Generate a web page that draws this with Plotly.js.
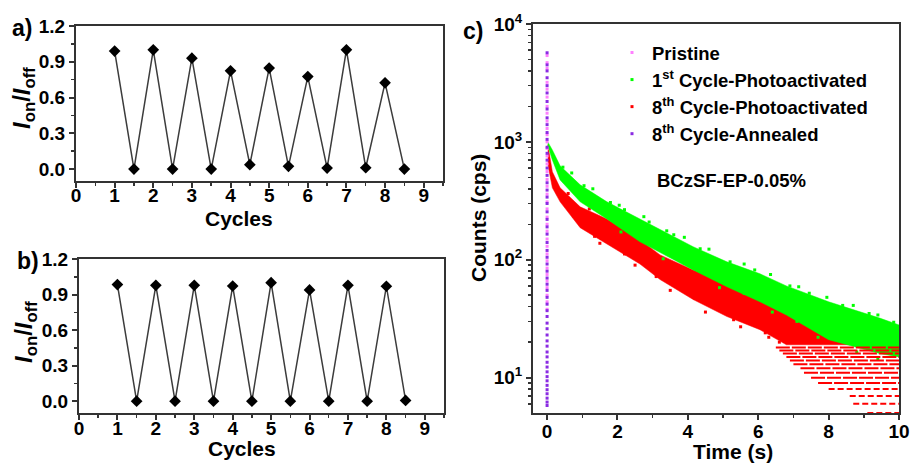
<!DOCTYPE html>
<html><head><meta charset="utf-8">
<script src="https://cdn.plot.ly/plotly-3.0.1.min.js"></script>
<style>html,body{margin:0;padding:0;background:#fff}#chart{width:911px;height:464px}</style>
</head><body><div id="chart"></div>
<script>
// ---- panels a / b : on/off ratio vs cycles ----
const cyclesX = [1,1.5,2,2.5,3,3.5,4,4.5,5,5.5,6,6.5,7,7.5,8,8.5];
const ratioA  = [0.99,0.0,1.0,0.0,0.93,0.0,0.824,0.037,0.847,0.023,0.776,0.008,1.0,0.011,0.723,0.0];
const ratioB  = [0.984,0.0,0.978,0.0,0.978,0.0,0.972,0.0,1.0,0.0,0.939,0.0,0.978,0.0,0.97,0.006];
const cycleTicks = [0,1,2,3,4,5,6,7,8,9];
const ratioTicks = [0.0,0.3,0.6,0.9,1.2];

// ---- panel c : decay curves (counts in cps, time in s) ----
const greenT  = [0.02,0.15,0.37,0.94,1.7,2.64,3.21,4.15,5.11,6.05,6.8,8.0,9.45,10];
const greenHi = [1000,855,626,432,310,222,180,129,96,76,60,44,32,28];
const greenLo = [925,703,476,310,222,142,115,82,59,44,34,21,16,15];
const greenOutT = [0.45,0.7,1.05,1.3,1.8,2.05,2.2,2.75,2.9,3.4,3.6,3.9,4.35,4.6,5.2,5.6,5.9,6.35,6.9,7.15,7.45,7.95,8.4,8.7,9.15,9.4,9.85,2.1,3.3,4.9,5.6,6.4,7.1,7.7,8.8,9.4];
const greenOutV = [610,545,425,400,306,290,266,232,209,176,163,155,124,123,96,92,82,75,60,59,52,48,41,41,35,34,29.5,172,102,58,52,36,30,22,16.5,14.5];

const redT  = [0.02,0.15,0.37,0.94,1.7,2.64,3.21,4.15,5.11,6.05,6.8,8.0,9.45,10];
const redHi = [950,557,408,281,222,148,110,82,64,48.5,39,31,25.5,23];
const redLo = [650,408,310,187,137,92,68,46,33,25.5,19,19,19,20];
const redOutT = [0.6,0.75,1.2,1.35,1.5,2.0,2.2,2.5,3.0,3.1,3.5,3.9,4.2,4.5,5.0,5.3,5.5,6.0,6.2,6.3,6.6,7.0,7.5,8.2,9.0,9.7];
const redOutV = [365,235,270,158,138,210,112,90,132,72,55,94,47,36,71,31,27,53,24,22,20,41,38,33,30,27];
const redRowLevel = [5,6,7,8,9,10,11,12,13,14,15,16,17,18];
const redRowStart = [9.1,8.7,8.6,8.0,7.7,7.5,7.3,7.2,7.0,6.9,6.8,6.7,6.6,6.5];

const pristineV = [5400,4700,4200,3200,2800,2400,2000,1750,1500,1300,1150,1000,880,760,650,560,480,420,360,310,270,230,200,175,150,130,112,98,85,75,66,58,50,44,38];
const annealedV = [5700,4500,4000,3500,3000,2600,2200,1900,1600,1400,1200,1050,900,800,700,600,520,450,390,340,300,255,220,190,165,140,120,105,92,80,70,62,55,48,42,37,33,29,26,23,20.5,18.5,16.5,15,13.5,12.3,11.2,10.2,9.4,8.6,7.9,7.3,6.7,6.2,5.8];
const timeTicks = [0,2,4,6,8,10];
const countTicks = [10,100,1000,10000];
const countTickText = ['10<sup>1</sup>','10<sup>2</sup>','10<sup>3</sup>','10<sup>4</sup>'];

// ---- styles ----
const FONT = 'Liberation Sans, Arial, Helvetica, sans-serif';
const AX = '#333333';
const GREEN = '#00ff00', RED = '#ff0000', PINK = '#ff80ff', PURPLE = '#8a2be2';

const traces = [];
traces.push({x: cyclesX, y: ratioA, xaxis:'x', yaxis:'y', mode:'lines+markers', showlegend:false,
  line:{color:'#3c3c3c', width:1.5}, marker:{symbol:'diamond', size:9, color:'#000'}});
traces.push({x: cyclesX, y: ratioB, xaxis:'x2', yaxis:'y2', mode:'lines+markers', showlegend:false,
  line:{color:'#3c3c3c', width:1.5}, marker:{symbol:'diamond', size:9, color:'#000'}});

function band(t, hi, lo, color) {
  return {x: t.concat(t.slice().reverse()), y: hi.concat(lo.slice().reverse()),
    xaxis:'x3', yaxis:'y3', mode:'lines', fill:'toself', fillcolor: color,
    line:{width:0.5, color: color}, showlegend:false, hoverinfo:'skip'};
}
traces.push(band(redT, redHi, redLo, RED));
traces.push({x: redOutT, y: redOutV, xaxis:'x3', yaxis:'y3', mode:'markers', name:'8<sup>th</sup> Cycle-Photoactivated',
  legendrank: 3, marker:{symbol:'square', size:3, color:RED}});
traces.push(band(greenT, greenHi, greenLo, GREEN));
traces.push({x: greenOutT, y: greenOutV, xaxis:'x3', yaxis:'y3', mode:'markers', name:'1<sup>st</sup> Cycle-Photoactivated',
  legendrank: 2, marker:{symbol:'square', size:3, color:GREEN}});
redRowLevel.forEach((lv, i) => {
  traces.push({x:[redRowStart[i], 10], y:[lv, lv], xaxis:'x3', yaxis:'y3', mode:'lines', showlegend:false,
    line:{color:RED, width:2, dash: lv < 9 ? '6px,3px' : '14px,2px'}, hoverinfo:'skip'});
});
traces.push({x: pristineV.map(() => 0), y: pristineV, xaxis:'x3', yaxis:'y3', mode:'markers', name:'Pristine',
  legendrank: 1, marker:{symbol:'square', size:3, color:PINK}});
traces.push({x: annealedV.map(() => 0), y: annealedV, xaxis:'x3', yaxis:'y3', mode:'markers', name:'8<sup>th</sup> Cycle-Annealed',
  legendrank: 4, marker:{symbol:'square', size:3, color:PURPLE}});

const W = 911, H = 464;
const px = v => v / W, py = v => 1 - v / H;
const tickFont = {family: FONT, size: 19, color: '#000', weight: 'bold'};
function linAxis(extra) {
  return Object.assign({showline:true, mirror:true, linecolor:AX, linewidth:2, ticks:'outside', ticklen:5,
    tickwidth:2, tickcolor:AX, showgrid:false, zeroline:false, tickfont: tickFont}, extra);
}
const minorStyle = {ticklen:3, tickwidth:1.5, tickcolor:AX, showgrid:false};
const logMinor = [];
[1,10,100,1000].forEach(d => { for (let k = 2; k <= 9; k++) logMinor.push(k * d); });
[5,6,7,8,9].forEach(k => logMinor.push(k));

function ann(text, x, y, size, extra) {
  return Object.assign({text, x: px(x), y: py(y), xref:'paper', yref:'paper', xanchor:'center', yanchor:'middle',
    showarrow:false, font:{family:FONT, size, color:'#000', weight:'bold'}}, extra || {});
}
const ratioTitle = '<i>I</i><sub>on</sub>/<i>I</i><sub>off</sub>';

const layout = {
  width: W, height: H, margin:{l:0, r:0, t:0, b:0}, paper_bgcolor:'#fff', plot_bgcolor:'#fff',
  font:{family: FONT, color:'#000'},
  xaxis: linAxis({domain:[px(76), px(443)], anchor:'y', range:[0, 9.5], tickmode:'array', tickvals: cycleTicks,
    ticklabelstandoff:-9, minor: Object.assign({dtick:0.5, tick0:0}, minorStyle)}),
  yaxis: linAxis({domain:[py(181), py(26)], anchor:'x', range:[-0.1, 1.2], tickmode:'array', tickvals: ratioTicks,
    tickformat:'.1f', minor: Object.assign({dtick:0.15, tick0:0}, minorStyle)}),
  xaxis2: linAxis({domain:[px(79), px(444)], anchor:'y2', range:[0, 9.5], tickmode:'array', tickvals: cycleTicks,
    ticklabelstandoff:-8, minor: Object.assign({dtick:0.5, tick0:0}, minorStyle)}),
  yaxis2: linAxis({domain:[py(413), py(259)], anchor:'x2', range:[-0.1, 1.2], tickmode:'array', tickvals: ratioTicks,
    tickformat:'.1f', minor: Object.assign({dtick:0.15, tick0:0}, minorStyle)}),
  xaxis3: linAxis({domain:[px(533), px(899)], anchor:'y3', range:[-0.4, 10], tickmode:'array', tickvals: timeTicks,
    ticklabelstandoff:-5, minor: Object.assign({dtick:1, tick0:0}, minorStyle)}),
  yaxis3: linAxis({domain:[py(413), py(24)], anchor:'x3', type:'log', range:[0.7, 4], tickmode:'array',
    tickvals: countTicks, ticktext: countTickText,
    minor: Object.assign({tickmode:'array', tickvals: logMinor}, minorStyle)}),
  showlegend: true,
  legend: {x: px(612), y: py(34), xanchor:'left', yanchor:'top', bgcolor:'rgba(0,0,0,0)', borderwidth:0,
    font:{family: FONT, size: 18.5, color:'#000', weight:'bold'}, itemsizing:'trace', tracegroupgap:0},
  annotations: [
    ann('a)', 22, 28, 23), ann('b)', 28, 261, 23), ann('c)', 473, 31, 23),
    ann(ratioTitle, 23, 98, 24, {textangle:-90}),
    ann(ratioTitle, 25, 332, 24, {textangle:-90}),
    ann('Cycles', 239, 218, 21), ann('Cycles', 242, 448, 21),
    ann('Counts (cps)', 478, 218, 21, {textangle:-90}),
    ann('Time (s)', 733, 451, 21),
    ann('BCzSF-EP-0.05%', 731, 180, 18.5)
  ]
};
Plotly.newPlot('chart', traces, layout, {staticPlot:true, displayModeBar:false});
</script></body></html>
